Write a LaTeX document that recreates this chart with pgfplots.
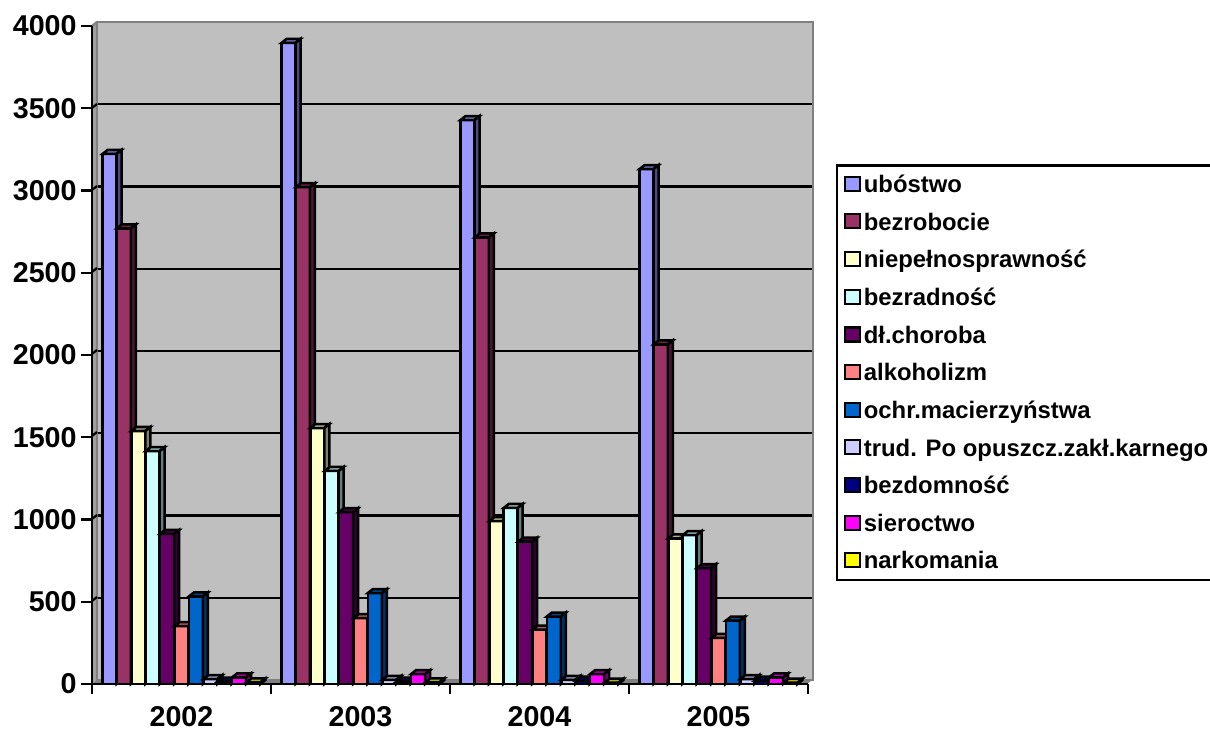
\documentclass[border=0pt]{standalone}
\usepackage{fontspec}
\setmainfont{Liberation Sans}
\usepackage{pgfplots}
\usepackage{pgfplotstable}
\pgfplotsset{compat=1.18}

\definecolor{c0}{HTML}{9999FF}
\definecolor{c1}{HTML}{993366}
\definecolor{c2}{HTML}{FFFFCC}
\definecolor{c3}{HTML}{CCFFFF}
\definecolor{c4}{HTML}{660066}
\definecolor{c5}{HTML}{FF8080}
\definecolor{c6}{HTML}{0066CC}
\definecolor{c7}{HTML}{CCCCFF}
\definecolor{c8}{HTML}{000080}
\definecolor{c9}{HTML}{FF00FF}
\definecolor{c10}{HTML}{FFFF00}

\pgfplotstableread{
rok  s0   s1   s2   s3   s4   s5  s6  s7 s8 s9 s10
2002 3222 2770 1538 1416 912  352 532 30 15 40 10
2003 3897 3020 1556 1295 1045 400 553 25 15 60 10
2004 3428 2715 990  1070 865  330 410 25 20 60 8
2005 3130 2065 885  905  705  280 385 30 20 40 8
}\dane

% 1 px = 0.75 pt; a bar as a mark: 14x value high, with 5,4 px depth
\pgfdeclareplotmark{bar3d}{%
  \pgfmathsetlengthmacro\barh{\val*0.123375pt}%
  \pgfpathrectangle{\pgfpoint{-5.25pt}{-\barh}}{\pgfpoint{10.5pt}{\barh}}%
  \pgfusepath{fill,stroke}%
  \pgfpathmoveto{\pgfpoint{-5.25pt}{0pt}}%
  \pgfpathlineto{\pgfpoint{-1.5pt}{3pt}}%
  \pgfpathlineto{\pgfpoint{9pt}{3pt}}%
  \pgfpathlineto{\pgfpoint{5.25pt}{0pt}}%
  \pgfpathclose
  \pgfusepath{fill,stroke}%
  \pgfpathmoveto{\pgfpoint{5.25pt}{0pt}}%
  \pgfpathlineto{\pgfpoint{9pt}{3pt}}%
  \pgfpathlineto{\pgfpoint{9pt}{\dimexpr3pt-\barh\relax}}%
  \pgfpathlineto{\pgfpoint{5.25pt}{-\barh}}%
  \pgfpathclose
  \pgfusepath{fill,stroke}%
  \pgfsetfillcolor{black}\pgfsetfillopacity{0.3}%
  \pgfpathmoveto{\pgfpoint{-5.25pt}{0pt}}%
  \pgfpathlineto{\pgfpoint{-1.5pt}{3pt}}%
  \pgfpathlineto{\pgfpoint{9pt}{3pt}}%
  \pgfpathlineto{\pgfpoint{5.25pt}{0pt}}%
  \pgfpathclose
  \pgfusepath{fill}%
  \pgfsetfillopacity{0.5}%
  \pgfpathmoveto{\pgfpoint{5.25pt}{0pt}}%
  \pgfpathlineto{\pgfpoint{9pt}{3pt}}%
  \pgfpathlineto{\pgfpoint{9pt}{\dimexpr3pt-\barh\relax}}%
  \pgfpathlineto{\pgfpoint{5.25pt}{-\barh}}%
  \pgfpathclose
  \pgfusepath{fill}%
}

\pgfplotsset{
  seria/.style 2 args={
    scatter, only marks, mark=bar3d, scatter src=y,
    visualization depends on={rawy \as \val},
    scatter/use mapped color={draw=black, fill=#2, line width=1.9pt},
    forget plot=false,
    legend image code/.code={\path[draw=black,line width=1.6pt,fill=#2] (-1pt,-4.5pt) rectangle (10.5pt,6pt);},
  }
}

\begin{document}
\begin{tikzpicture}
\path[use as bounding box] (0,0) rectangle (907.5pt,548.25pt);

% wall, floor and side wall in picture pixels
\begin{scope}[x=.75pt,y=-.75pt,yshift=548.25pt]
  \fill[gray!75] (92,684) -- (97,680) -- (97,22) -- (92,26) -- cycle;
  \fill[gray] (92,684) -- (97,680) -- (812,680) -- (807,684) -- cycle;
\end{scope}

\begin{axis}[
  name=sciana, scale only axis, at={(72.75pt,38.25pt)}, anchor=south west,
  width=537pt, height=493.5pt,
  xmin=0, xmax=1, ymin=0, ymax=4000,
  ytick={0,500,...,4000}, xtick=\empty, yticklabels={},
  tick style={draw=none},
  ymajorgrids, grid style={black,line width=1.7pt},
  axis background/.style={fill=black!25},
  axis line style={draw=gray,line width=1.7pt},
]
\end{axis}

\begin{scope}[x=.75pt,y=-.75pt,yshift=548.25pt]
  \draw[gray,line width=1.7pt] (92,26) -- (97,22);
  \foreach \y in {108,190,272,354,436,519,601} \draw[black,line width=1.7pt] (92,\y) -- (97,\y-4);
\end{scope}

\begin{axis}[
  scale only axis, at={(69pt,35.25pt)}, anchor=south west,
  width=537pt, height=493.5pt, clip=false,
  xmin=-0.5, xmax=3.5, ymin=0, ymax=4000,
  axis x line*=bottom, axis y line*=left,
  axis line style={line width=1.7pt,-},
  xtick={0,1,2,3}, xticklabels={2002,2003,2004,2005},
  major x tick style={draw=none},
  minor xtick={-0.5,0.5,1.5,2.5,3.5},
  minor x tick style={black,line width=1.7pt},
  minor tick length=7.5pt,
  ytick={0,500,...,4000},
  y tick style={black,line width=1.7pt},
  major tick length=8pt,
  tick align=outside,
  /pgf/number format/assume math mode=true,
  /pgf/number format/1000 sep={},
  tick label style={font=\fontsize{21.5}{24}\selectfont\bfseries},
  xticklabel style={inner ysep=0pt, yshift=-8.5pt},
  legend style={
    at={(1.039,0.7895)}, anchor=north west, draw=black, line width=1.7pt,
    font=\fontsize{17.9}{20}\selectfont\bfseries, cells={anchor=west},
    row sep=9.7pt, inner xsep=5pt, inner ysep=5pt,
    /tikz/every even column/.append style={column sep=1.5pt},
  },
]
\pgfplotsinvokeforeach{0,...,10}{
  \addplot[seria={#1}{c#1}] table[x expr={\coordindex+(#1-5)*0.0804}, y=s#1]{\dane};
}
\legend{ubóstwo,bezrobocie,niepełnosprawność,bezradność,dł.choroba,alkoholizm,ochr.macierzyństwa,trud. Po opuszcz.zakł.karnego,bezdomność,sieroctwo,narkomania}
\end{axis}
\end{tikzpicture}
\end{document}
